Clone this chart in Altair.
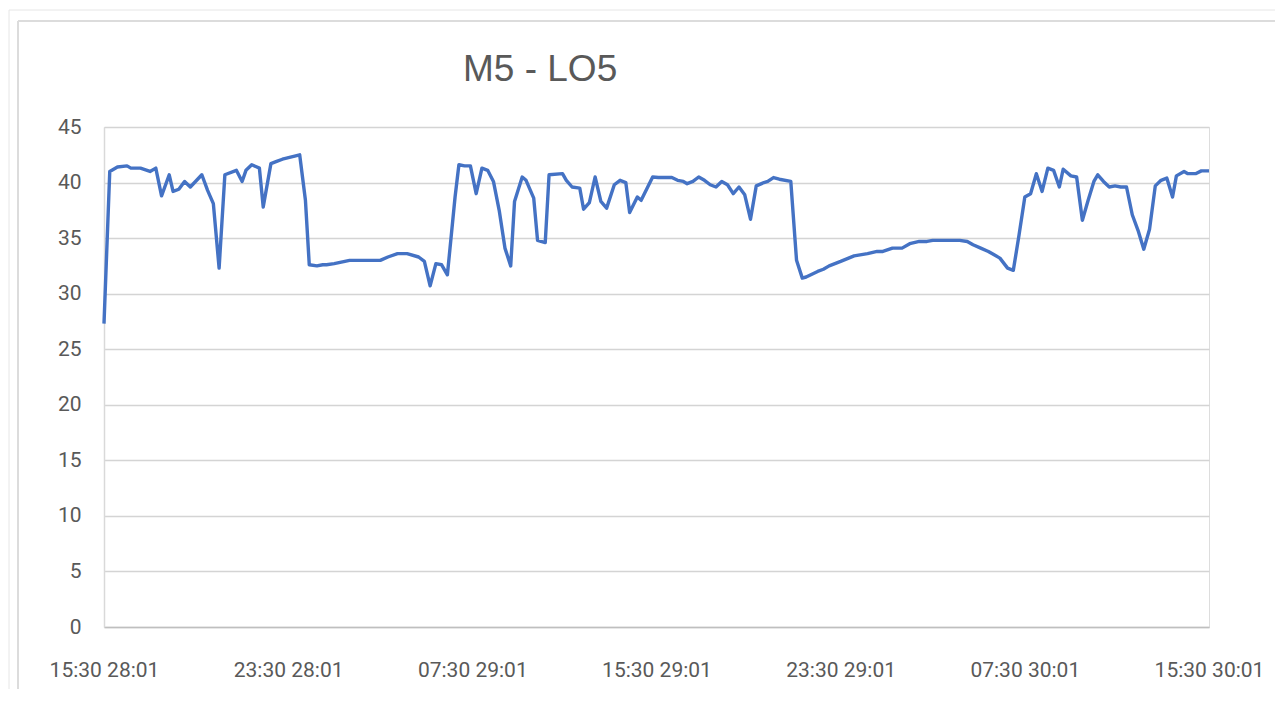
import altair as alt
import pandas as pd

TITLE = "M5 - LO5"
START = "2021-01-28 15:30"

# minutes after the start (15:30 28/01) and the measured value
minutes = [0, 15, 35, 60, 70, 95, 120, 135, 150, 170, 180, 195, 210, 225, 255, 270, 285, 300,
           315, 345, 360, 370, 385, 405, 415, 435, 450, 465, 510, 525, 535, 555, 570, 580, 600,
           640, 720, 740, 765, 790, 820, 835, 850, 865, 880, 895, 915, 925, 940, 955, 970, 985,
           1000, 1015, 1030, 1045, 1060, 1070, 1090, 1100, 1120, 1130, 1150, 1160, 1195, 1205,
           1220, 1240, 1250, 1265, 1280, 1295, 1310, 1330, 1345, 1360, 1370, 1390, 1400, 1420,
           1430, 1445, 1480, 1495, 1510, 1520, 1535, 1550, 1565, 1580, 1595, 1610, 1625, 1640,
           1655, 1670, 1685, 1700, 1720, 1730, 1745, 1760, 1790, 1805, 1820, 1830, 1860, 1875,
           1890, 1920, 1955, 1990, 2015, 2030, 2055, 2080, 2100, 2125, 2145, 2160, 2230, 2250,
           2265, 2285, 2305, 2320, 2335, 2355, 2370, 2385, 2400, 2415, 2430, 2445, 2460, 2475,
           2490, 2500, 2520, 2535, 2550, 2565, 2580, 2590, 2605, 2620, 2635, 2650, 2665, 2680,
           2695, 2710, 2725, 2740, 2755, 2770, 2785, 2795, 2815, 2825, 2845, 2860, 2880]

values = [27.3, 41.0, 41.4, 41.5, 41.3, 41.3, 41.0, 41.3, 38.8, 40.7, 39.2, 39.4, 40.1, 39.6,
          40.7, 39.3, 38.1, 32.3, 40.7, 41.1, 40.1, 41.1, 41.6, 41.3, 37.8, 41.7, 41.9, 42.1,
          42.5, 38.4, 32.6, 32.5, 32.6, 32.6, 32.7, 33.0, 33.0, 33.3, 33.6, 33.6, 33.3, 32.9,
          30.7, 32.7, 32.6, 31.7, 38.7, 41.6, 41.5, 41.5, 39.0, 41.3, 41.1, 40.1, 37.5, 34.1,
          32.5, 38.3, 40.5, 40.2, 38.6, 34.8, 34.6, 40.7, 40.8, 40.2, 39.6, 39.5, 37.6, 38.2,
          40.5, 38.3, 37.7, 39.8, 40.2, 40.0, 37.3, 38.7, 38.4, 39.8, 40.5, 40.45, 40.45, 40.2,
          40.1, 39.9, 40.1, 40.5, 40.2, 39.8, 39.6, 40.1, 39.8, 39.0, 39.6, 38.9, 36.7, 39.7,
          40.0, 40.1, 40.45, 40.3, 40.1, 33.0, 31.4, 31.5, 32.0, 32.2, 32.5, 32.9, 33.4, 33.6,
          33.8, 33.8, 34.1, 34.1, 34.5, 34.7, 34.7, 34.8, 34.8, 34.7, 34.4, 34.1, 33.8, 33.5,
          33.2, 32.3, 32.1, 35.3, 38.7, 39.0, 40.8, 39.2, 41.3, 41.1, 39.6, 41.2, 40.6, 40.5,
          36.6, 38.4, 40.1, 40.7, 40.1, 39.6, 39.7, 39.6, 39.6, 37.1, 35.7, 34.0, 35.8, 39.7,
          40.2, 40.4, 38.7, 40.6, 41.0, 40.8, 40.8, 41.05, 41.05]

y_ticks = [0, 5, 10, 15, 20, 25, 30, 35, 40, 45]
# x tick positions: every 8 hours from 15:30 28/01 to 15:30 30/01
x_ticks = [(28, 15), (28, 23), (29, 7), (29, 15), (29, 23), (30, 7), (30, 15)]

start = pd.Timestamp(START)
df = pd.DataFrame({
    "time": [(start + pd.Timedelta(minutes=m)).strftime("%Y-%m-%dT%H:%M:%S") for m in minutes],
    "value": values,
})

W, H = 1105, 500
LABEL_FONT = "Roboto"
GREY = "#595959"

x_vals = [alt.DateTime(year=2021, month=1, date=d, hours=h, minutes=30) for d, h in x_ticks]

line = alt.Chart(df).mark_line(color="#4472C4", strokeWidth=3.4, strokeJoin="round").encode(
    x=alt.X("time:T",
            scale=alt.Scale(domain=[x_vals[0], x_vals[-1]], nice=False),
            axis=alt.Axis(values=x_vals, format="%H:%M %d:%m", title=None, grid=False,
                          ticks=False, tickSize=0, labelPadding=49, labelBaseline="alphabetic",
                          labelFont=LABEL_FONT, labelFontSize=21, labelColor=GREY,
                          labelFlush=False, labelOverlap=False,
                          domainColor="#bfbfbf", domainWidth=1.5)),
    y=alt.Y("value:Q",
            scale=alt.Scale(domain=[0, 45], nice=False),
            axis=alt.Axis(values=y_ticks, title=None, ticks=False, tickSize=0, labelPadding=23,
                          labelFont=LABEL_FONT, labelFontSize=21, labelColor=GREY,
                          gridColor="#d4d4d4", gridWidth=1.5,
                          domainColor="#d9d9d9", domainWidth=1.5)),
)

# title as a text layer placed above the plot area
title = alt.Chart(pd.DataFrame({"t": [TITLE]})).mark_text(
    align="left", baseline="alphabetic", font="Liberation Sans", fontSize=37,
    color=GREY).encode(text="t:N", x=alt.value(359), y=alt.value(-46))

# chart-area frame lines (outside the plot area)
one = pd.DataFrame({"k": [0]})
frame = alt.Chart(one).mark_rule(color="#dcdcdc", strokeWidth=2).encode(
    x=alt.value(-86), x2=alt.value(W + 70), y=alt.value(-106))
frame_left = alt.Chart(one).mark_rule(color="#dcdcdc", strokeWidth=2).encode(
    x=alt.value(-86), y=alt.value(-106), y2=alt.value(H + 70))
outer_top = alt.Chart(one).mark_rule(color="#e6e6e6", strokeWidth=1).encode(
    x=alt.value(-95), x2=alt.value(W + 70), y=alt.value(-117))
outer_left = alt.Chart(one).mark_rule(color="#e6e6e6", strokeWidth=1).encode(
    x=alt.value(-95), y=alt.value(-117), y2=alt.value(H + 70))

chart = alt.layer(outer_top, outer_left, frame, frame_left, title, line).properties(
    width=W, height=H,
    autosize=alt.AutoSizeParams(type="none"),
    padding={"left": 96, "top": 119, "right": 66, "bottom": 62},
).configure_view(stroke="transparent", strokeWidth=0, strokeOpacity=0).configure(background="white")

chart.save("out.html", embed_options={"renderer": "svg", "actions": False})
